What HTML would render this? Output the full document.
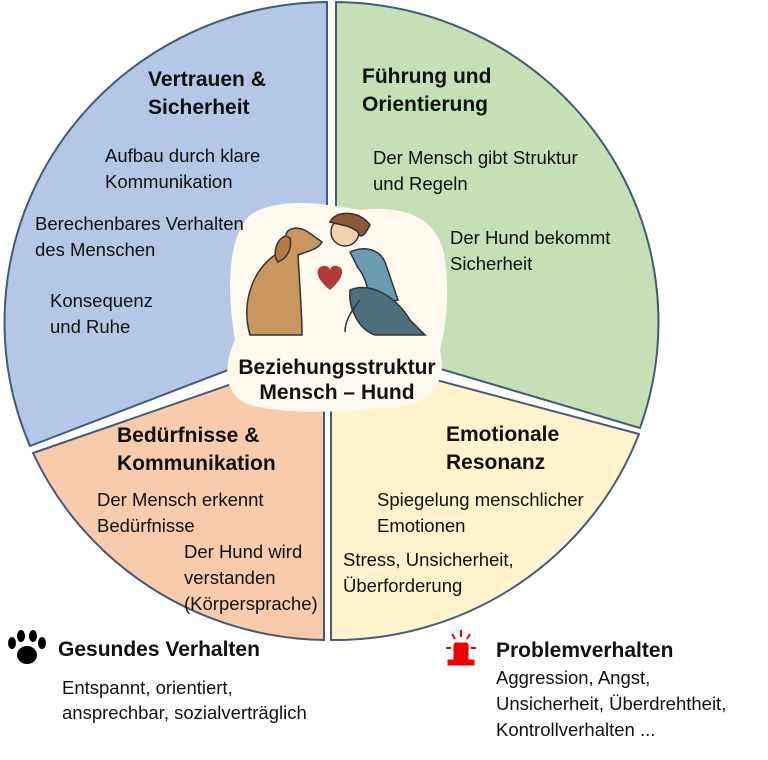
<!DOCTYPE html>
<html><head><meta charset="utf-8"><style>
body{margin:0;background:#fff;width:768px;height:755px;overflow:hidden}
svg text{font-family:"Liberation Sans",sans-serif;fill:#111}
.t{font-weight:bold;font-size:21px}
.b{font-size:18.5px}
</style></head><body>
<svg width="768" height="755" viewBox="0 0 768 755">
<g stroke="#445a78" stroke-width="2">
<path d="M327,332 L327,2 A326,320 0 0 0 30,446 Z" fill="#b4c7e7"/>
<path d="M336,338 L336,2 A326,320 0 0 1 640,428 Z" fill="#c5e0b4"/>
<path d="M331,352 L639,434 A326,320 0 0 1 331,640 Z" fill="#fff2cc"/>
<path d="M324,352 L324,640 A326,320 0 0 1 33,453 Z" fill="#f8cbad"/>
</g>
<path d="M250,215 C280,195 330,205 360,210 C400,205 440,215 445,260 C450,300 445,330 440,350 C450,390 420,410 380,408 C340,412 290,415 250,405 C220,395 225,360 235,340 C228,300 225,240 250,215 Z" fill="#fdf9ee"/>
<g stroke="#333" stroke-width="1.5" fill="#c9965f">
<path d="M250,335 C240,300 255,265 280,252 L286,238 C284,228 298,225 308,232 L322,242 C318,250 305,252 298,255 C300,290 302,315 302,335 Z"/>
<path d="M286,236 C276,238 272,256 278,262 C288,258 292,248 290,238 Z" fill="#b47c45"/>
</g>
<path d="M330,290 C316,279 314,268 323,266 C327,265 330,268 330,270 C330,268 333,265 337,266 C346,268 343,279 330,290 Z" fill="#b33a3a"/>
<g stroke="#333" stroke-width="1.5">
<path d="M350,252 C365,245 380,250 385,262 L398,300 L372,305 C368,290 365,275 358,268 Z" fill="#6a9bb3"/>
<path d="M350,290 C370,282 395,295 410,320 L425,335 L375,335 C360,330 348,310 350,290 Z" fill="#4c6f7d"/>
<circle cx="345" cy="232" r="14" fill="#f2d0b0"/>
<path d="M330,222 C335,210 360,210 370,225 C365,235 360,240 358,232 C350,225 340,225 330,222 Z" fill="#8a5a35"/>
<path d="M360,300 C352,310 345,320 345,332" fill="none"/>
</g>
<text x="337" y="374" text-anchor="middle" style="font-size:21px;font-weight:bold">Beziehungsstruktur</text>
<text x="337" y="399" text-anchor="middle" style="font-size:21px;font-weight:bold">Mensch – Hund</text>

<text class="t" x="148" y="86">Vertrauen &amp;</text>
<text class="t" x="148" y="114">Sicherheit</text>
<text class="b" x="105" y="162">Aufbau durch klare</text>
<text class="b" x="105" y="188">Kommunikation</text>
<text class="b" x="35" y="230">Berechenbares Verhalten</text>
<text class="b" x="35" y="256">des Menschen</text>
<text class="b" x="50" y="307">Konsequenz</text>
<text class="b" x="50" y="333">und Ruhe</text>

<text class="t" x="362" y="83">Führung und</text>
<text class="t" x="362" y="111">Orientierung</text>
<text class="b" x="373" y="164">Der Mensch gibt Struktur</text>
<text class="b" x="373" y="190">und Regeln</text>
<text class="b" x="450" y="244">Der Hund bekommt</text>
<text class="b" x="450" y="270">Sicherheit</text>

<text class="t" x="117" y="442">Bedürfnisse &amp;</text>
<text class="t" x="117" y="470">Kommunikation</text>
<text class="b" x="97" y="506">Der Mensch erkennt</text>
<text class="b" x="97" y="532">Bedürfnisse</text>
<text class="b" x="184" y="558">Der Hund wird</text>
<text class="b" x="184" y="584">verstanden</text>
<text class="b" x="184" y="610">(Körpersprache)</text>

<text class="t" x="446" y="441">Emotionale</text>
<text class="t" x="446" y="469">Resonanz</text>
<text class="b" x="377" y="506">Spiegelung menschlicher</text>
<text class="b" x="377" y="532">Emotionen</text>
<text class="b" x="343" y="566">Stress, Unsicherheit,</text>
<text class="b" x="343" y="592">Überforderung</text>

<g fill="#000">
<ellipse cx="27" cy="655" rx="10" ry="9"/>
<ellipse cx="12" cy="643" rx="4" ry="6"/>
<ellipse cx="21" cy="636" rx="4" ry="6"/>
<ellipse cx="33" cy="636" rx="4" ry="6"/>
<ellipse cx="42" cy="643" rx="4" ry="6"/>
</g>
<text class="t" x="58" y="656">Gesundes Verhalten</text>
<text class="b" x="62" y="694">Entspannt, orientiert,</text>
<text class="b" x="62" y="719">ansprechbar, sozialverträglich</text>

<g fill="#e00" stroke="#e00">
<rect x="454" y="643" width="14" height="18" rx="2"/>
<rect x="448" y="660" width="26" height="5"/>
<line x1="446" y1="648" x2="451" y2="648" stroke-width="2"/>
<line x1="471" y1="648" x2="476" y2="648" stroke-width="2"/>
<line x1="461" y1="630" x2="461" y2="637" stroke-width="2"/>
<line x1="452" y1="634" x2="455" y2="639" stroke-width="2"/>
<line x1="470" y1="634" x2="467" y2="639" stroke-width="2"/>
</g>
<text class="t" x="496" y="657">Problemverhalten</text>
<text class="b" x="496" y="684">Aggression, Angst,</text>
<text class="b" x="496" y="710">Unsicherheit, Überdrehtheit,</text>
<text class="b" x="496" y="736">Kontrollverhalten ...</text>
</svg>
</body></html>
